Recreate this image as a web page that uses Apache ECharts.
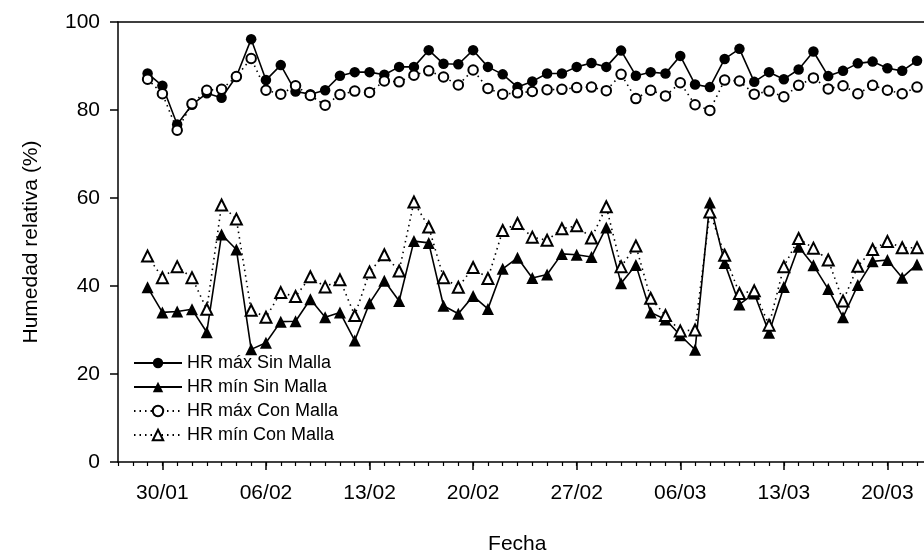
<!DOCTYPE html>
<html>
<head>
<meta charset="utf-8">
<script src="https://cdn.jsdelivr.net/npm/echarts@6.0.0/dist/echarts.min.js"></script>
<style>
  html, body { margin: 0; padding: 0; background: #fff; overflow: hidden; width: 924px; height: 555px; }
  #chart { width: 960px; height: 555px; }
</style>
</head>
<body>
<div id="chart"></div>
<script>
// Axis categories (one per day), including the empty days at both ends of the axis
const axisDays = [
  '27/01','28/01','29/01','30/01','31/01',
  '01/02','02/02','03/02','04/02','05/02','06/02','07/02','08/02','09/02','10/02',
  '11/02','12/02','13/02','14/02','15/02','16/02','17/02','18/02','19/02','20/02',
  '21/02','22/02','23/02','24/02','25/02','26/02','27/02','28/02',
  '01/03','02/03','03/03','04/03','05/03','06/03','07/03','08/03','09/03','10/03',
  '11/03','12/03','13/03','14/03','15/03','16/03','17/03','18/03','19/03','20/03',
  '21/03','22/03','23/03','24/03'
];

// Measurement dates (29/01 .. 22/03)
const fechas = [
  '29/01','30/01','31/01',
  '01/02','02/02','03/02','04/02','05/02','06/02','07/02','08/02','09/02','10/02',
  '11/02','12/02','13/02','14/02','15/02','16/02','17/02','18/02','19/02','20/02',
  '21/02','22/02','23/02','24/02','25/02','26/02','27/02','28/02',
  '01/03','02/03','03/03','04/03','05/03','06/03','07/03','08/03','09/03','10/03',
  '11/03','12/03','13/03','14/03','15/03','16/03','17/03','18/03','19/03','20/03',
  '21/03','22/03'
];

const tickLabels = ['30/01','06/02','13/02','20/02','27/02','06/03','13/03','20/03'];

const hrMaxSin = [
  88.3, 85.5, 76.7, 81.2, 83.8, 82.8, 87.6, 96.1, 86.8, 90.2,
  84.2, 83.6, 84.5, 87.8, 88.6, 88.6, 88.0, 89.8, 89.8, 93.6,
  90.5, 90.4, 93.6, 89.8, 88.1, 85.2, 86.5, 88.3, 88.3, 89.8,
  90.7, 89.8, 93.5, 87.8, 88.6, 88.3, 92.3, 85.8, 85.2, 91.6,
  93.9, 86.4, 88.6, 87.0, 89.2, 93.3, 87.7, 88.9, 90.6, 91.0,
  89.5, 88.9, 91.2
];

const hrMinSin = [
  39.7, 34.0, 34.2, 34.7, 29.5, 51.7, 48.3, 25.6, 27.1, 31.9,
  32.0, 37.0, 32.9, 34.0, 27.6, 36.1, 41.2, 36.6, 50.2, 49.8,
  35.5, 33.7, 37.7, 34.8, 43.9, 46.4, 41.8, 42.6, 47.3, 47.1,
  46.6, 53.3, 40.6, 44.8, 34.0, 32.4, 28.8, 25.5, 59.0, 45.2,
  35.8, 38.3, 29.4, 39.8, 48.9, 44.7, 39.3, 32.9, 40.2, 45.6,
  45.9, 41.9, 44.9
];

const hrMaxCon = [
  87.0, 83.7, 75.4, 81.4, 84.5, 84.7, 87.6, 91.7, 84.5, 83.6,
  85.5, 83.3, 81.1, 83.5, 84.3, 84.0, 86.6, 86.4, 87.9, 88.9,
  87.5, 85.7, 89.1, 84.9, 83.6, 83.9, 84.2, 84.6, 84.7, 85.1,
  85.2, 84.4, 88.1, 82.6, 84.5, 83.2, 86.2, 81.2, 79.9, 86.8,
  86.6, 83.6, 84.3, 83.0, 85.6, 87.3, 84.8, 85.5, 83.7, 85.6,
  84.5, 83.7, 85.2
];

const hrMinCon = [
  46.8, 41.9, 44.4, 41.9, 34.7, 58.4, 55.2, 34.5, 32.9, 38.5,
  37.6, 42.1, 39.8, 41.4, 33.3, 43.2, 47.1, 43.4, 59.1, 53.4,
  41.9, 39.7, 44.2, 41.7, 52.6, 54.2, 51.1, 50.4, 53.0, 53.7,
  50.9, 58.0, 44.4, 49.1, 37.2, 33.3, 29.8, 30.0, 56.8, 47.0,
  38.3, 38.9, 31.1, 44.4, 50.8, 48.6, 45.9, 36.6, 44.5, 48.3,
  50.1, 48.7, 48.7
];

const FONT = 'Liberation Sans, Arial, sans-serif';
const pairs = vals => fechas.map((f, i) => [f, vals[i]]);
const isMajor = (idx, val) => tickLabels.indexOf(val) >= 0;

const chart = echarts.init(document.getElementById('chart'));
chart.setOption({
  animation: false,
  backgroundColor: '#fff',
  grid: { left: 118, top: 22, width: 828.6, height: 440, containLabel: false, outerBoundsMode: 'none' },
  legend: {
    orient: 'vertical',
    left: 128,
    top: 349,
    itemWidth: 48,
    itemHeight: 13,
    itemGap: 6,
    textStyle: { fontFamily: FONT, fontSize: 18, color: '#000' },
    data: ['HR máx Sin Malla', 'HR mín Sin Malla', 'HR máx Con Malla', 'HR mín Con Malla']
  },
  xAxis: [
    {
      type: 'category', data: axisDays, boundaryGap: false, position: 'bottom',
      axisLine: { lineStyle: { color: '#000', width: 1.5 } },
      axisTick: { interval: 0, length: 4, lineStyle: { color: '#000', width: 1.2 } },
      axisLabel: { show: false },
      splitLine: { show: false }
    },
    {
      type: 'category', data: axisDays, boundaryGap: false, position: 'bottom',
      axisLine: { show: false },
      axisTick: { interval: isMajor, length: 8, lineStyle: { color: '#000', width: 1.5 } },
      axisLabel: { interval: isMajor, margin: 21, fontFamily: FONT, fontSize: 21, color: '#000' },
      splitLine: { show: false },
      name: 'Fecha', nameLocation: 'middle', nameGap: 72,
      nameTextStyle: { fontFamily: FONT, fontSize: 21, color: '#000', padding: [0, 30, 0, 0] }
    },
    {
      type: 'category', data: axisDays, boundaryGap: false, position: 'top',
      axisLine: { lineStyle: { color: '#000', width: 1.5 } },
      axisTick: { show: false }, axisLabel: { show: false }, splitLine: { show: false }
    }
  ],
  yAxis: {
    type: 'value', min: 0, max: 100, interval: 20,
    axisLine: { show: true, lineStyle: { color: '#000', width: 1.5 } },
    axisTick: { show: true, length: 8, lineStyle: { color: '#000', width: 1.5 } },
    axisLabel: { margin: 18, fontFamily: FONT, fontSize: 21, color: '#000' },
    splitLine: { show: false },
    name: 'Humedad relativa (%)', nameLocation: 'middle', nameGap: 76,
    nameTextStyle: { fontFamily: FONT, fontSize: 21, color: '#000' }
  },
  series: [
    {
      name: 'HR máx Sin Malla', type: 'line', xAxisIndex: 0, data: pairs(hrMaxSin),
      symbol: 'circle', symbolSize: 10.5, showAllSymbol: true,
      itemStyle: { color: '#000' },
      lineStyle: { color: '#000', width: 1.6 }
    },
    {
      name: 'HR mín Sin Malla', type: 'line', xAxisIndex: 0, data: pairs(hrMinSin),
      symbol: 'triangle', symbolSize: 12, showAllSymbol: true,
      itemStyle: { color: '#000' },
      lineStyle: { color: '#000', width: 1.6 }
    },
    {
      name: 'HR máx Con Malla', type: 'line', xAxisIndex: 0, data: pairs(hrMaxCon),
      symbol: 'emptyCircle', symbolSize: 9.5, showAllSymbol: true,
      itemStyle: { color: '#000', borderWidth: 1.7 },
      lineStyle: { color: '#000', width: 1.6, type: [1.5, 4] }
    },
    {
      name: 'HR mín Con Malla', type: 'line', xAxisIndex: 0, data: pairs(hrMinCon),
      symbol: 'emptyTriangle', symbolSize: 11, showAllSymbol: true,
      itemStyle: { color: '#000', borderWidth: 1.7 },
      lineStyle: { color: '#000', width: 1.6, type: [1.5, 4] }
    }
  ]
});
</script>
</body>
</html>
